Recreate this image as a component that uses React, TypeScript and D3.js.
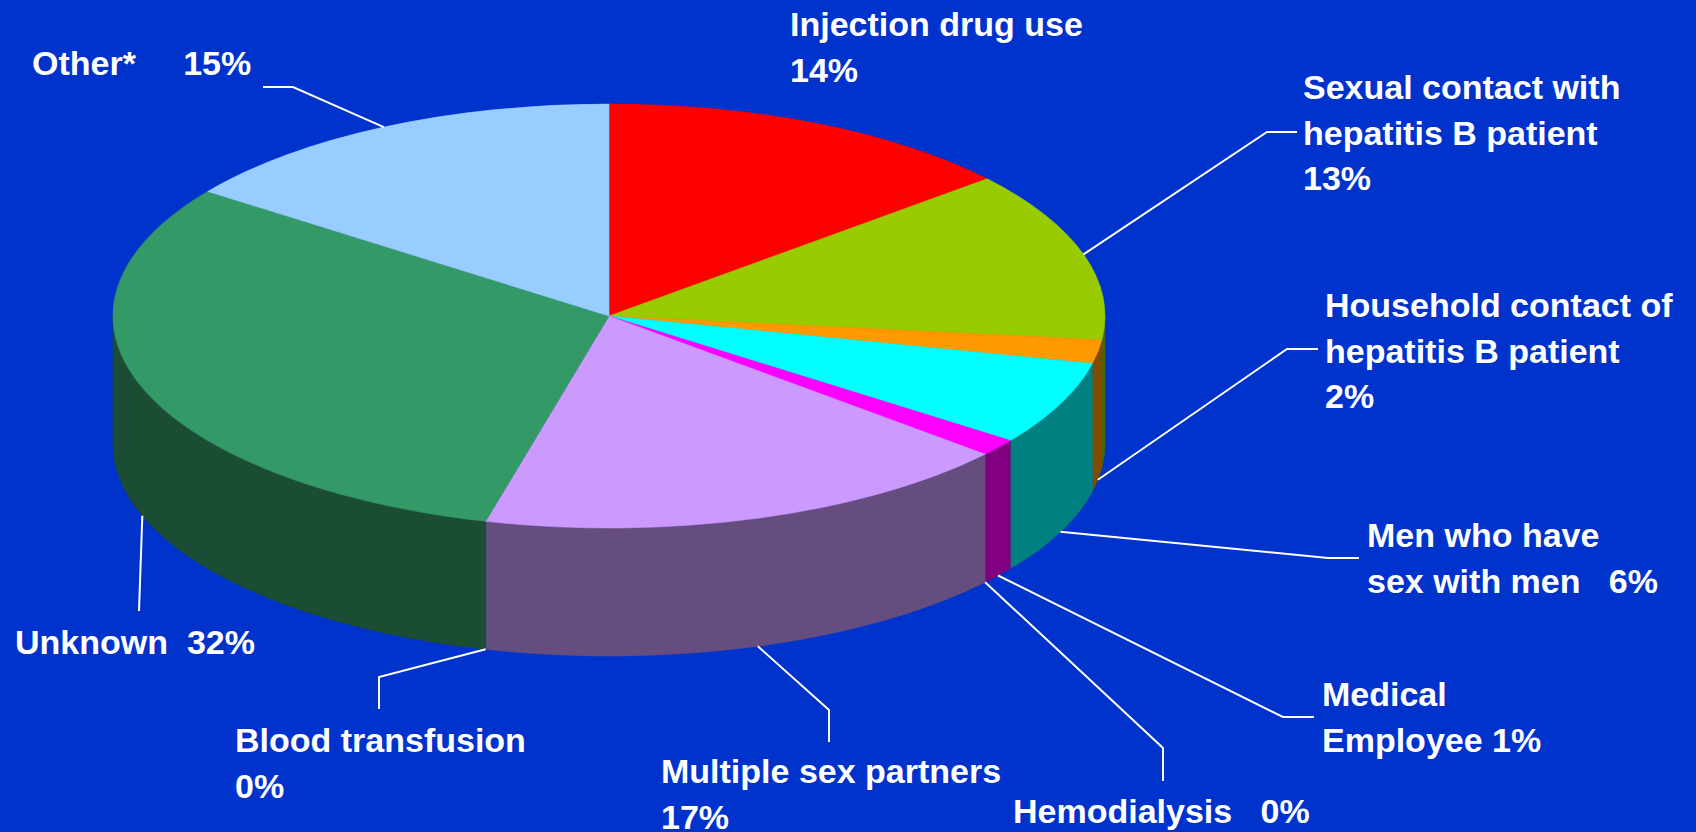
import React from 'react'
import * as d3 from 'd3'

// slice order runs clockwise from 12 o'clock, as in the original
const categories = [
  'Injection drug use',
  'Sexual contact with hepatitis B patient',
  'Household contact of hepatitis B patient',
  'Men who have sex with men',
  'Medical Employee',
  'Hemodialysis',
  'Multiple sex partners',
  'Blood transfusion',
  'Unknown',
  'Other*',
]
// slice sizes (percent)
const values = [13.8, 13.0, 1.8, 6.4, 1.3, 0, 17.7, 0, 31.0, 15.0]
// percentages as printed on the labels
const pctLabels = ['14%', '13%', '2%', '6%', '1%', '0%', '17%', '0%', '32%', '15%']
const colors = ['#FF0000', '#99CC00', '#FF9900', '#00FFFF', '#FF00FF', '#3366FF', '#CC99FF', '#FF6600', '#339966', '#99CCFF']

/* label layout: text lines (%p = percentage), text origin, leader bend points */
const labelLayout: { lines: string[]; x: number; y: number; leader: number[][] | null }[] = [
  { lines: ['Injection drug use', '%p'], x: 790, y: 36, leader: null },
  { lines: ['Sexual contact with', 'hepatitis B patient', '%p'], x: 1303, y: 99, leader: [[1267, 132], [1297, 132]] },
  { lines: ['Household contact of', 'hepatitis B patient', '%p'], x: 1325, y: 317, leader: [[1287, 349], [1318, 349]] },
  { lines: ['Men who have', 'sex with men   %p'], x: 1367, y: 547, leader: [[1328, 558], [1359, 558]] },
  { lines: ['Medical', 'Employee %p'], x: 1322, y: 706, leader: [[1283, 717], [1314, 717]] },
  { lines: ['Hemodialysis   %p'], x: 1013, y: 823, leader: [[1163, 748], [1163, 781]] },
  { lines: ['Multiple sex partners', '%p'], x: 661, y: 783, leader: [[829, 710], [829, 742]] },
  { lines: ['Blood transfusion', '%p'], x: 235, y: 752, leader: [[379, 677], [379, 709]] },
  { lines: ['Unknown  %p'], x: 15, y: 654, leader: [[139, 611]] },
  { lines: ['Other*     %p'], x: 32, y: 75, leader: [[293, 87], [263, 87]] },
]

const W = 1696
const H = 832
const cx = 609
const cy = 316
const rx = 496
const ry = 212
const depth = 128
const lineGap = 45.5

const shade = (c: string) => {
  const r = d3.rgb(c)
  return d3.rgb(r.r * 0.5, r.g * 0.5, r.b * 0.5).formatHex()
}

// keep runs of spaces in the labels
const keepSpaces = (s: string) => s.replace(/ /g, '\u00A0')

export default function App() {
  const pie = d3.pie<number>().sort(null).value((d) => d)
  const arcs = pie(values)
  const k = rx / ry

  const topArc = d3.arc<d3.PieArcDatum<number>>().innerRadius(0).outerRadius(ry)

  /* outer wall, only the front half (pi/2 .. 3pi/2) is visible */
  const walls = arcs.map((a, i) => {
    const a0 = Math.max(a.startAngle, Math.PI / 2)
    const a1 = Math.min(a.endAngle, (3 * Math.PI) / 2)
    if (a1 <= a0) return null
    const p = d3.path()
    p.moveTo(ry * Math.sin(a0), -ry * Math.cos(a0))
    p.arc(0, 0, ry, a0 - Math.PI / 2, a1 - Math.PI / 2, false)
    p.lineTo(ry * Math.sin(a1), -ry * Math.cos(a1) + depth)
    p.arc(0, depth, ry, a1 - Math.PI / 2, a0 - Math.PI / 2, true)
    p.closePath()
    return { d: p.toString(), color: shade(colors[i]), key: categories[i] }
  })

  /* leader anchor: rim of top face for back slices, bottom rim for front slices */
  const anchor = (a: d3.PieArcDatum<number>) => {
    const m = (a.startAngle + a.endAngle) / 2
    const front = m > Math.PI / 2 && m < (3 * Math.PI) / 2
    return [cx + rx * Math.sin(m), cy - ry * Math.cos(m) + (front ? depth : 0)]
  }

  return (
    <div>
      <style>{`body{margin:0;background:#0033CC}`}</style>
      <svg width={W} height={H} style={{ display: 'block' }}>
        <rect width={W} height={H} fill="#0033CC" />
        <g transform={`translate(${cx},${cy}) scale(${k},1)`}>
          {walls.map((w) =>
            w ? (
              <path key={w.key} d={w.d} fill={w.color} stroke={w.color} strokeWidth={0.6} vectorEffect="non-scaling-stroke" />
            ) : null
          )}
          {arcs.map((a, i) =>
            a.endAngle > a.startAngle ? (
              <path
                key={categories[i]}
                d={topArc(a) || ''}
                fill={colors[i]}
                stroke={colors[i]}
                strokeWidth={0.6}
                vectorEffect="non-scaling-stroke"
              />
            ) : null
          )}
        </g>
        <g fill="none" stroke="#FFFFFF" strokeWidth={2}>
          {arcs.map((a, i) => {
            const lay = labelLayout[i]
            if (!lay.leader) return null
            const pts = [anchor(a), ...lay.leader]
            return <path key={categories[i]} d={d3.line()(pts as [number, number][]) || ''} />
          })}
        </g>
        <g fill="#FFFFFF" fontFamily="'Liberation Sans', Arial, sans-serif" fontWeight="bold" fontSize={34}>
          {labelLayout.map((lay, i) => (
            <text key={categories[i]} x={lay.x} y={lay.y}>
              {lay.lines.map((ln, j) => (
                <tspan key={j} x={lay.x} y={lay.y + j * lineGap}>
                  {keepSpaces(ln.replace('%p', pctLabels[i]))}
                </tspan>
              ))}
            </text>
          ))}
        </g>
      </svg>
    </div>
  )
}
